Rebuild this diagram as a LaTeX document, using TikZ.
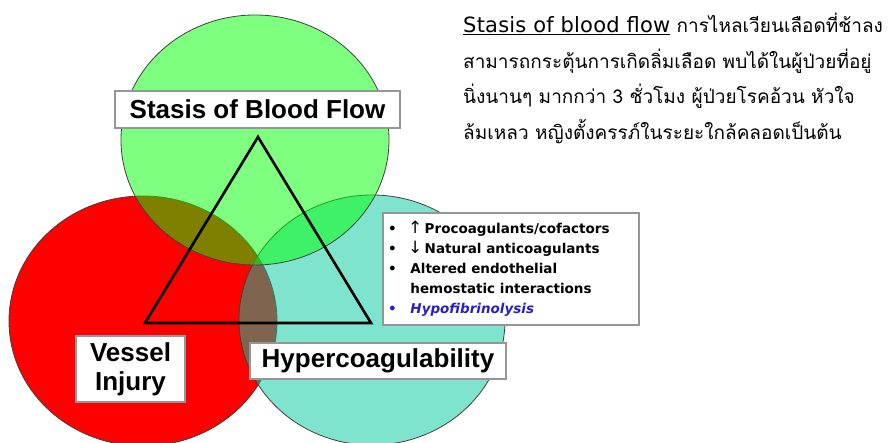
\documentclass[tikz,border=0pt]{standalone}
\usepackage{fontspec}
\setmainfont{Liberation Sans}
\newfontfamily\infofont{DejaVu Sans}
\newfontfamily\latinfont[LetterSpace=1]{DejaVu Sans}
\newfontfamily\thaifont[Script=Thai]{Loma}
\definecolor{redc}{RGB}{255,0,0}
\definecolor{tealc}{RGB}{0,203,159}
\definecolor{greenc}{RGB}{0,255,0}
\definecolor{hypoblue}{RGB}{40,30,200}
\definecolor{boxgray}{RGB}{150,150,150}
\newcommand{\bigarrow}[1]{{\fontsize{17}{20}\selectfont\mdseries #1}}
\begin{document}
\begin{tikzpicture}[x=1pt,y=-1pt,
  circ/.style={draw=black!75, line width=0.8pt},
  labelbox/.style={draw=boxgray, line width=1.2pt, fill=white, inner sep=0pt,
    font=\bfseries\fontsize{26}{29}\selectfont, align=center},
  textblock/.style={anchor=base west, inner sep=0pt}
]
\useasboundingbox (0,0) rectangle (888,443);
\clip (0,0) rectangle (888,443);
\fill[white] (0,0) rectangle (888,443);
% circles
\draw[circ, fill=redc] (143,321) ellipse [x radius=134, y radius=125];
\draw[circ, fill=tealc, fill opacity=0.5] (372,320) ellipse [x radius=133, y radius=125];
\draw[circ, fill=greenc, fill opacity=0.5] (255,140) ellipse [x radius=134, y radius=125];
% triangle
\coordinate (apex) at (258,137);
\coordinate (bl) at (145,323);
\coordinate (br) at (371,323);
\draw[line width=2.6pt, line join=miter] (apex) -- (bl) -- (br) -- cycle;
% labels
\node[labelbox, minimum width=285pt, minimum height=37pt] (stasis) at (257.5,109.5) {Stasis of Blood Flow};
\node[labelbox, minimum width=109pt, minimum height=66pt] (vessel) at (130.5,369) {Vessel\\Injury};
\node[labelbox, minimum width=256pt, minimum height=36pt] (hyper) at (378,361) {Hypercoagulability};
% info box
\node[draw=boxgray, line width=1.2pt, fill=white, minimum width=256pt, minimum height=112pt, inner sep=0pt] (info) at (511,269) {};
\node[textblock, font=\infofont\bfseries\fontsize{13.5}{20}\selectfont] (infotext) at (388,234)
{\begin{tabular}[t]{@{}p{20pt}@{}l@{}}
• & \bigarrow{↑}\,Procoagulants/cofactors\\
• & \bigarrow{↓}\,Natural anticoagulants\\
• & \,Altered endothelial\\
  & \,hemostatic interactions\\
\textcolor{hypoblue}{•} & \,\textcolor{hypoblue}{\itshape Hypofibrinolysis}
\end{tabular}};
% thai text
\node[textblock, font=\thaifont\fontsize{19}{35.5}\selectfont] (thai) at (463,33)
{\begin{tabular}[t]{@{}l@{}}
\underline{\fontsize{21}{35.5}\latinfont Stasis of blood flow} การไหลเวียนเลือดที่ช้าลง\\
สามารถกระตุ้นการเกิดลิ่มเลือด พบได้ในผู้ป่วยที่อยู่\\
นิ่งนานๆ มากกว่า 3 ชั่วโมง ผู้ป่วยโรคอ้วน หัวใจ\\
ล้มเหลว หญิงตั้งครรภ์ในระยะใกล้คลอดเป็นต้น
\end{tabular}};
\end{tikzpicture}
\end{document}
